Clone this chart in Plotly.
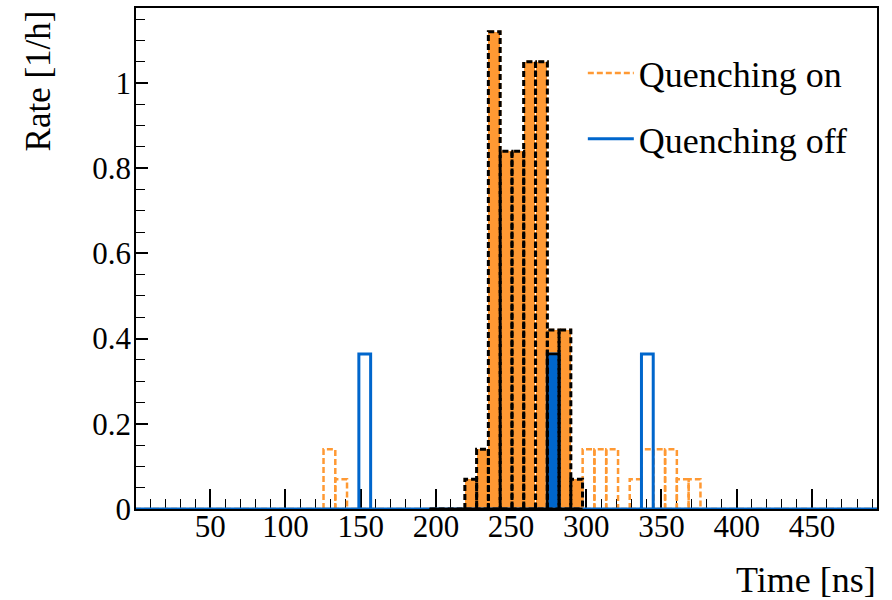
import plotly.graph_objects as go

# ---- data (rate per 7.83 ns time bin) ----
bin_width = 7.83          # ns
x_max = 493.3             # ns, end of histogram range

on_time = [129.2, 137.0,
           223.2, 231.0, 238.8, 246.7, 254.5, 262.3, 270.2, 278.0, 285.8, 293.6,
           301.5, 309.3, 317.2, 332.8, 340.6, 348.5, 356.3, 364.1, 372.0]
on_rate = [0.14, 0.07,
           0.07, 0.14, 1.12, 0.84, 0.84, 1.05, 1.05, 0.42, 0.42, 0.07,
           0.14, 0.14, 0.14, 0.07, 0.14, 0.14, 0.14, 0.07, 0.07]

off_time = [152.7, 278.0, 340.6]
off_rate = [0.364, 0.364, 0.364]

window = [195.8, 297.5]   # highlighted (filled) time window, ns

x_ticks = [50, 100, 150, 200, 250, 300, 350, 400, 450]

ORANGE = "#ff9933"
BLUE = "#0066cc"
FONT = "Liberation Serif"


def boxes(times, rates, baseline=None):
    xs, ys = [], []
    if baseline is not None:
        xs += [baseline[0], baseline[1], None]
        ys += [0, 0, None]
    for t, r in zip(times, rates):
        lo, hi = t - bin_width / 2, t + bin_width / 2
        xs += [lo, lo, hi, hi, None]
        ys += [0, r, r, 0, None]
    return xs, ys


def in_window(times, rates):
    pairs = [(t, r) for t, r in zip(times, rates) if window[0] <= t <= window[1]]
    return [p[0] for p in pairs], [p[1] for p in pairs]


fig = go.Figure()

win_on_t, win_on_r = in_window(on_time, on_rate)
win_off_t, win_off_r = in_window(off_time, off_rate)

# filled bars inside the window
fig.add_trace(go.Bar(x=win_on_t, y=win_on_r, width=bin_width,
                     marker=dict(color=ORANGE, line=dict(width=0)),
                     showlegend=False, hoverinfo="skip"))
fig.add_trace(go.Bar(x=win_off_t, y=win_off_r, width=bin_width,
                     marker=dict(color=BLUE, line=dict(width=0)),
                     showlegend=False, hoverinfo="skip"))

# outline histograms
xs, ys = boxes(on_time, on_rate, baseline=(0, x_max))
fig.add_trace(go.Scatter(x=xs, y=ys, mode="lines", name="Quenching on",
                         line=dict(color=ORANGE, width=2.5, dash="6px,3px"),
                         legendgroup="on"))
xs, ys = boxes(off_time, off_rate, baseline=(0, x_max))
fig.add_trace(go.Scatter(x=xs, y=ys, mode="lines", name="Quenching off",
                         line=dict(color=BLUE, width=3),
                         legendgroup="off"))

# black outlines in the window
xs, ys = boxes(win_on_t, win_on_r, baseline=window)
fig.add_trace(go.Scatter(x=xs, y=ys, mode="lines", showlegend=False,
                         line=dict(color="black", width=3, dash="6px,3px"),
                         hoverinfo="skip"))
xs, ys = boxes(win_off_t, win_off_r)
fig.add_trace(go.Scatter(x=xs, y=ys, mode="lines", showlegend=False,
                         line=dict(color="black", width=2.5),
                         hoverinfo="skip"))
fig.add_trace(go.Scatter(x=list(window), y=[0, 0], mode="lines", showlegend=False,
                         line=dict(color="black", width=2.5), hoverinfo="skip"))

fig.update_layout(
    width=892, height=600,
    margin=dict(l=136, r=15, t=6, b=91),
    paper_bgcolor="white", plot_bgcolor="white",
    barmode="overlay", bargap=0,
    font=dict(family=FONT, color="black"),
    showlegend=True,
    legend=dict(x=0.603, y=0.93, xanchor="left", yanchor="top",
                bgcolor="rgba(0,0,0,0)", borderwidth=0,
                font=dict(family=FONT, size=36, color="black"),
                itemwidth=46, tracegroupgap=16),
    xaxis=dict(range=[0.6, x_max], showgrid=False, zeroline=False,
               showline=True, linecolor="black", linewidth=1.5, mirror=True,
               ticks="inside", ticklen=20, tickwidth=1.5, tickcolor="black",
               tickmode="array", tickvals=x_ticks, ticklabelstandoff=-11,
               tickfont=dict(family=FONT, size=31, color="black"),
               minor=dict(tick0=0, dtick=10, ticks="inside", ticklen=10,
                          tickwidth=1.2, tickcolor="black", showgrid=False),
               layer="below traces"),
    yaxis=dict(range=[0, 1.176], showgrid=False, zeroline=False,
               showline=True, linecolor="black", linewidth=1.5, mirror=True,
               ticks="inside", ticklen=12, tickwidth=1.5, tickcolor="black",
               tick0=0, dtick=0.2, ticklabelstandoff=-3,
               tickfont=dict(family=FONT, size=31, color="black"),
               minor=dict(tick0=0, dtick=0.05, ticks="inside", ticklen=9,
                          tickwidth=1.2, tickcolor="black", showgrid=False),
               layer="below traces"),
    annotations=[
        dict(text="Time [ns]", xref="paper", yref="paper", x=1.002, y=-0.141,
             xanchor="right", yanchor="middle", showarrow=False,
             font=dict(family=FONT, size=36, color="black")),
        dict(text="Rate [1/h]", xref="paper", yref="paper", x=-0.131, y=1.0,
             xanchor="center", yanchor="top", textangle=-90, showarrow=False,
             font=dict(family=FONT, size=35, color="black")),
    ],
)

fig.write_html("out.html", config={"displayModeBar": False},
               post_script="document.body.style.margin='0px';")
